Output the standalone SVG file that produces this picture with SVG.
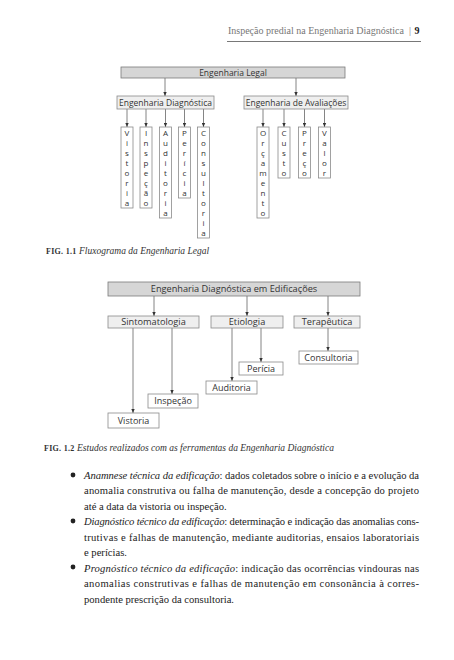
<svg xmlns="http://www.w3.org/2000/svg" width="454" height="660" viewBox="0 0 454 660">
<defs>
<marker id="ah" viewBox="0 0 6 6" refX="6" refY="3" markerWidth="4" markerHeight="4" orient="auto" markerUnits="userSpaceOnUse">
<path d="M0,0.5 L6,3 L0,5.5 z" fill="#333"/>
</marker>
<style>
.bg{fill:#fff}
.lbl{font-family:"Open Sans","DejaVu Sans",sans-serif;font-size:8.5px;fill:#333;text-anchor:middle}
.vl{font-family:"Open Sans","DejaVu Sans",sans-serif;font-size:8px;fill:#333;text-anchor:middle}
.b1{fill:#d6d6d6;stroke:#7a7a7a;stroke-width:0.8}
.b2{fill:#efefef;stroke:#8a8a8a;stroke-width:0.8}
.b3{fill:#ffffff;stroke:#8a8a8a;stroke-width:0.8}
.c{stroke:#666;stroke-width:0.8;fill:none;marker-end:url(#ah)}
.hd{font-family:"Liberation Serif",serif;font-size:10px;fill:#777}
.cap{font-family:"Liberation Serif",serif;font-size:9.5px;fill:#333}
.body{font-family:"Liberation Serif",serif;font-size:10.6px;fill:#222}
</style>
</defs>
<rect class="bg" x="0" y="0" width="454" height="660"/>

<g id="header">
<text class="hd" x="404" y="34" text-anchor="end">Inspeção predial na Engenharia Diagnóstica</text>
<text class="hd" x="410" y="34" text-anchor="middle">|</text>
<text class="hd" x="417" y="34" text-anchor="middle" style="fill:#222;font-weight:bold">9</text>
<line x1="227" y1="41.5" x2="421" y2="41.5" stroke="#555" stroke-width="0.8"/>
</g>

<g id="connectors-fig1">
<line class="c" x1="165" y1="78" x2="165" y2="96"/>
<line class="c" x1="296" y1="78" x2="296" y2="96"/>
<line class="c" x1="127" y1="109" x2="127" y2="127"/>
<line class="c" x1="146" y1="109" x2="146" y2="127"/>
<line class="c" x1="165.5" y1="109" x2="165.5" y2="127"/>
<line class="c" x1="184.5" y1="109" x2="184.5" y2="127"/>
<line class="c" x1="203.5" y1="109" x2="203.5" y2="127"/>
<line class="c" x1="263" y1="109" x2="263" y2="127"/>
<line class="c" x1="284" y1="109" x2="284" y2="127"/>
<line class="c" x1="304.5" y1="109" x2="304.5" y2="127"/>
<line class="c" x1="324.5" y1="109" x2="324.5" y2="127"/>
</g>

<g id="eng-legal">
<rect class="b1" x="121" y="67" width="224" height="11"/>
<text class="lbl" x="233" y="75.6">Engenharia Legal</text>
</g>
<g id="eng-diagnostica">
<rect class="b2" x="117" y="96" width="97" height="13"/>
<text class="lbl" x="165.5" y="105.6">Engenharia Diagnóstica</text>
</g>
<g id="eng-avaliacoes">
<rect class="b2" x="244" y="96" width="104" height="13"/>
<text class="lbl" x="296" y="105.6">Engenharia de Avaliações</text>
</g>

<g id="vistoria">
<rect class="b3" x="121" y="127" width="12" height="81"/>
<text class="vl"><tspan x="127" y="136">V</tspan><tspan x="127" dy="10">i</tspan><tspan x="127" dy="10">s</tspan><tspan x="127" dy="10">t</tspan><tspan x="127" dy="10">o</tspan><tspan x="127" dy="10">r</tspan><tspan x="127" dy="10">i</tspan><tspan x="127" dy="10">a</tspan></text>
</g>
<g id="inspecao">
<rect class="b3" x="140" y="127" width="12" height="81"/>
<text class="vl"><tspan x="146" y="136">I</tspan><tspan x="146" dy="10">n</tspan><tspan x="146" dy="10">s</tspan><tspan x="146" dy="10">p</tspan><tspan x="146" dy="10">e</tspan><tspan x="146" dy="10">ç</tspan><tspan x="146" dy="10">ã</tspan><tspan x="146" dy="10">o</tspan></text>
</g>
<g id="auditoria">
<rect class="b3" x="159.5" y="127" width="12" height="91"/>
<text class="vl"><tspan x="165.5" y="136">A</tspan><tspan x="165.5" dy="10">u</tspan><tspan x="165.5" dy="10">d</tspan><tspan x="165.5" dy="10">i</tspan><tspan x="165.5" dy="10">t</tspan><tspan x="165.5" dy="10">o</tspan><tspan x="165.5" dy="10">r</tspan><tspan x="165.5" dy="10">i</tspan><tspan x="165.5" dy="10">a</tspan></text>
</g>
<g id="pericia">
<rect class="b3" x="178.5" y="127" width="12" height="71"/>
<text class="vl"><tspan x="184.5" y="136">P</tspan><tspan x="184.5" dy="10">e</tspan><tspan x="184.5" dy="10">r</tspan><tspan x="184.5" dy="10">í</tspan><tspan x="184.5" dy="10">c</tspan><tspan x="184.5" dy="10">i</tspan><tspan x="184.5" dy="10">a</tspan></text>
</g>
<g id="consultoria">
<rect class="b3" x="197.5" y="127" width="12" height="111"/>
<text class="vl"><tspan x="203.5" y="136">C</tspan><tspan x="203.5" dy="10">o</tspan><tspan x="203.5" dy="10">n</tspan><tspan x="203.5" dy="10">s</tspan><tspan x="203.5" dy="10">u</tspan><tspan x="203.5" dy="10">l</tspan><tspan x="203.5" dy="10">t</tspan><tspan x="203.5" dy="10">o</tspan><tspan x="203.5" dy="10">r</tspan><tspan x="203.5" dy="10">i</tspan><tspan x="203.5" dy="10">a</tspan></text>
</g>
<g id="orcamento">
<rect class="b3" x="257" y="127" width="12" height="91"/>
<text class="vl"><tspan x="263" y="136">O</tspan><tspan x="263" dy="10">r</tspan><tspan x="263" dy="10">ç</tspan><tspan x="263" dy="10">a</tspan><tspan x="263" dy="10">m</tspan><tspan x="263" dy="10">e</tspan><tspan x="263" dy="10">n</tspan><tspan x="263" dy="10">t</tspan><tspan x="263" dy="10">o</tspan></text>
</g>
<g id="custo">
<rect class="b3" x="278" y="127" width="12" height="51"/>
<text class="vl"><tspan x="284" y="136">C</tspan><tspan x="284" dy="10">u</tspan><tspan x="284" dy="10">s</tspan><tspan x="284" dy="10">t</tspan><tspan x="284" dy="10">o</tspan></text>
</g>
<g id="preco">
<rect class="b3" x="298.5" y="127" width="12" height="51"/>
<text class="vl"><tspan x="304.5" y="136">P</tspan><tspan x="304.5" dy="10">r</tspan><tspan x="304.5" dy="10">e</tspan><tspan x="304.5" dy="10">ç</tspan><tspan x="304.5" dy="10">o</tspan></text>
</g>
<g id="valor">
<rect class="b3" x="318.5" y="127" width="12" height="51"/>
<text class="vl"><tspan x="324.5" y="136">V</tspan><tspan x="324.5" dy="10">a</tspan><tspan x="324.5" dy="10">l</tspan><tspan x="324.5" dy="10">o</tspan><tspan x="324.5" dy="10">r</tspan></text>
</g>

<g id="caption1">
<text class="cap" x="46" y="254"><tspan style="font-size:8px;font-weight:bold;letter-spacing:0.3px">FIG. 1.1</tspan><tspan font-style="italic"> Fluxograma da Engenharia Legal</tspan></text>
</g>

<g id="connectors-fig2">
<line class="c" x1="154" y1="296" x2="154" y2="316"/>
<line class="c" x1="247" y1="296" x2="247" y2="316"/>
<line class="c" x1="328" y1="296" x2="328" y2="316"/>
<line class="c" x1="133" y1="328" x2="133" y2="413"/>
<line class="c" x1="172" y1="328" x2="172" y2="394"/>
<line class="c" x1="232" y1="328" x2="232" y2="381"/>
<line class="c" x1="261" y1="328" x2="261" y2="362"/>
<line class="c" x1="328" y1="328" x2="328" y2="351"/>
</g>

<g id="ed-top">
<rect class="b1" x="108" y="282" width="252" height="14"/>
<text class="lbl" x="234" y="292.3" style="font-size:9.2px">Engenharia Diagnóstica em Edificações</text>
</g>
<g id="sintomatologia">
<rect class="b2" x="108" y="316" width="91" height="12"/>
<text class="lbl" x="153.5" y="325.2" style="font-size:9.2px">Sintomatologia</text>
</g>
<g id="etiologia">
<rect class="b2" x="211" y="316" width="72" height="12"/>
<text class="lbl" x="247" y="325.2" style="font-size:9.2px">Etiologia</text>
</g>
<g id="terapeutica">
<rect class="b2" x="294" y="316" width="66" height="12"/>
<text class="lbl" x="327" y="325.2" style="font-size:9.2px">Terapêutica</text>
</g>
<g id="l-vistoria">
<rect class="b3" x="108" y="413" width="51" height="15"/>
<text class="lbl" x="133.5" y="423.6" style="font-size:9px">Vistoria</text>
</g>
<g id="l-inspecao">
<rect class="b3" x="148" y="394" width="50" height="14"/>
<text class="lbl" x="173" y="404.2" style="font-size:9px">Inspeção</text>
</g>
<g id="l-auditoria">
<rect class="b3" x="206" y="381" width="51" height="13"/>
<text class="lbl" x="231.5" y="390.7" style="font-size:9px">Auditoria</text>
</g>
<g id="l-pericia">
<rect class="b3" x="239" y="362" width="44" height="13"/>
<text class="lbl" x="261" y="371.7" style="font-size:9px">Perícia</text>
</g>
<g id="l-consultoria">
<rect class="b3" x="299" y="351" width="59" height="13"/>
<text class="lbl" x="328.5" y="360.7" style="font-size:9px">Consultoria</text>
</g>

<g id="caption2">
<text class="cap" x="44" y="451"><tspan style="font-size:8px;font-weight:bold;letter-spacing:0.3px">FIG. 1.2</tspan><tspan font-style="italic"> Estudos realizados com as ferramentas da Engenharia Diagnóstica</tspan></text>
</g>

<g id="body">
<circle cx="73" cy="475" r="2.4" fill="#222"/>
<circle cx="73" cy="521" r="2.4" fill="#222"/>
<circle cx="73" cy="567" r="2.4" fill="#222"/>
<text class="body" x="84" y="478.5" textLength="335" lengthAdjust="spacing"><tspan font-style="italic">Anamnese técnica da edificação</tspan>: dados coletados sobre o início e a evolução da</text>
<text class="body" x="84" y="494" textLength="335" lengthAdjust="spacing">anomalia construtiva ou falha de manutenção, desde a concepção do projeto</text>
<text class="body" x="84" y="509.5">até a data da vistoria ou inspeção.</text>
<text class="body" x="84" y="525" textLength="335" lengthAdjust="spacing"><tspan font-style="italic">Diagnóstico técnico da edificação</tspan>: determinação e indicação das anomalias cons-</text>
<text class="body" x="84" y="540.5" textLength="335" lengthAdjust="spacing">trutivas e falhas de manutenção, mediante auditorias, ensaios laboratoriais</text>
<text class="body" x="84" y="556">e perícias.</text>
<text class="body" x="84" y="571.5" textLength="335" lengthAdjust="spacing"><tspan font-style="italic">Prognóstico técnico da edificação</tspan>: indicação das ocorrências vindouras nas</text>
<text class="body" x="84" y="587" textLength="335" lengthAdjust="spacing">anomalias construtivas e falhas de manutenção em consonância à corres-</text>
<text class="body" x="84" y="602.5">pondente prescrição da consultoria.</text>
</g>
</svg>
